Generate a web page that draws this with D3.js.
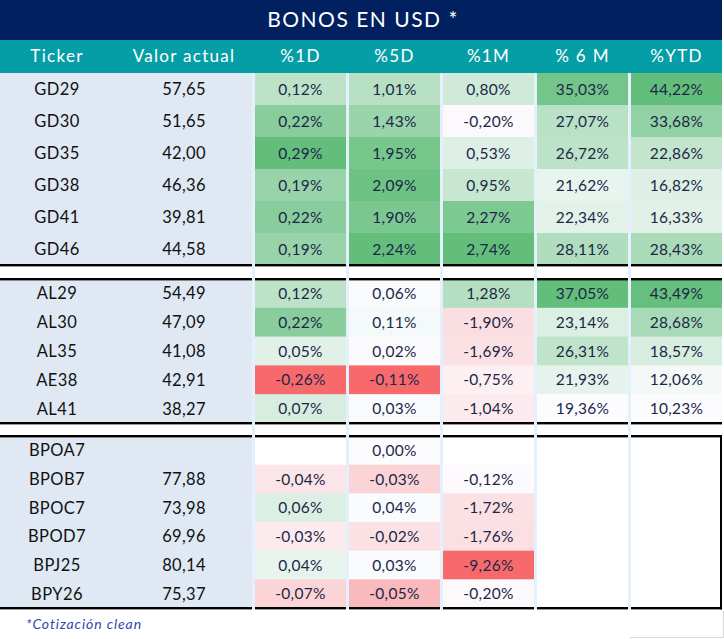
<!DOCTYPE html>
<html>
<head>
<meta charset="utf-8">
<script src="https://cdn.jsdelivr.net/npm/d3@7"></script>
<style>
  html, body { margin: 0; padding: 0; background: #ffffff; }
  svg { display: block; }
  text { font-family: "Lato", "DejaVu Sans", sans-serif; }
</style>
</head>
<body>
<svg id="chart" width="724" height="639"></svg>
<script>
// ---------------- DATA ----------------
const title = "BONOS EN USD *";
const footnote = "*Cotización clean";
const headers = ["Ticker", "Valor actual", "%1D", "%5D", "%1M", "% 6 M", "%YTD"];
const pctColumns = ["%1D", "%5D", "%1M", "% 6 M", "%YTD"];

const tickers = ["GD29","GD30","GD35","GD38","GD41","GD46",
                 "AL29","AL30","AL35","AE38","AL41",
                 "BPOA7","BPOB7","BPOC7","BPOD7","BPJ25","BPY26"];
const groupOf = [0,0,0,0,0,0, 1,1,1,1,1, 2,2,2,2,2,2];

const valorActual = [57.65,51.65,42.00,46.36,39.81,44.58,
                     54.49,47.09,41.08,42.91,38.27,
                     null,77.88,73.98,69.96,80.14,75.37];
const pct1D  = [0.12,0.22,0.29,0.19,0.22,0.19,
                0.12,0.22,0.05,-0.26,0.07,
                null,-0.04,0.06,-0.03,0.04,-0.07];
const pct5D  = [1.01,1.43,1.95,2.09,1.90,2.24,
                0.06,0.11,0.02,-0.11,0.03,
                0.00,-0.03,0.04,-0.02,0.03,-0.05];
const pct1M  = [0.80,-0.20,0.53,0.95,2.27,2.74,
                1.28,-1.90,-1.69,-0.75,-1.04,
                null,-0.12,-1.72,-1.76,-9.26,-0.20];
const pct6M  = [35.03,27.07,26.72,21.62,22.34,28.11,
                37.05,23.14,26.31,21.93,19.36,
                null,null,null,null,null,null];
const pctYTD = [44.22,33.68,22.86,16.82,16.33,28.43,
                43.49,28.68,18.57,12.06,10.23,
                null,null,null,null,null,null];

const pctSeries = [pct1D, pct5D, pct1M, pct6M, pctYTD];

// ---------------- STYLE / LAYOUT ----------------
const C = {
  navy: "#002060", teal: "#069ea6", tickerBg: "#dfe8f3", gap: "#e4f0fb",
  red: "#F8696B", white: "#FCFCFF", green: "#63BE7B",
  cellText: "#1c2748", tickerText: "#111111", line: "#000000",
  foot: "#3446b0"
};
const W = 722;
const titleH = 40, headerTop = 40, headerBottom = 73;
const groupExtents = [[73, 265], [279, 423], [436, 608]];
const tickerRight = 252;

const svg = d3.select("#chart");
const fmt = v => d3.format(".2f")(v).replace(".", ",").replace("\u2212", "-");

// scales
const xPct = d3.scaleBand().domain(pctColumns).range([255, W]).paddingInner(3 / 94).paddingOuter(0);
const xText = { "Ticker": 57, "Valor actual": 184 };
pctColumns.forEach(c => xText[c] = xPct(c) + xPct.bandwidth() / 2);

const yGroups = groupExtents.map((ext, g) => {
  const rows = tickers.filter((t, i) => groupOf[i] === g);
  return d3.scaleBand().domain(rows).range(ext);
});
const yRow = i => yGroups[groupOf[i]](tickers[i]);
const rowH = i => yGroups[groupOf[i]].bandwidth();

function colorScale(values) {
  const v = values.filter(d => d != null);
  const lo = d3.min(v), hi = d3.max(v);
  if (lo >= 0) return d3.scaleLinear().domain([lo, hi]).range([C.white, C.green]).interpolate(d3.interpolateRgb);
  if (hi <= 0) return d3.scaleLinear().domain([lo, hi]).range([C.red, C.white]).interpolate(d3.interpolateRgb);
  return d3.scaleLinear().domain([lo, 0, hi]).range([C.red, C.white, C.green]).interpolate(d3.interpolateRgb);
}
const colorScales = pctSeries.map(colorScale);

// ---------------- DRAW ----------------
// title
svg.append("rect").attr("x", 0).attr("y", 0).attr("width", W).attr("height", titleH).attr("fill", C.navy);
svg.append("text").attr("x", W / 2 + 2).attr("y", 27).attr("text-anchor", "middle")
  .attr("fill", "#ffffff").attr("font-size", 21).attr("letter-spacing", 1.5).text(title);

// header
svg.append("rect").attr("x", 0).attr("y", headerTop).attr("width", W).attr("height", headerBottom - headerTop).attr("fill", C.teal);
svg.selectAll("text.hdr").data(headers).join("text").attr("class", "hdr")
  .attr("x", d => xText[d]).attr("y", 62).attr("text-anchor", "middle")
  .attr("fill", "#ffffff").attr("font-size", 17).attr("letter-spacing", 1.3).text(d => d);

// gap background behind pct columns
svg.append("rect").attr("x", tickerRight).attr("y", headerBottom).attr("width", W - tickerRight)
  .attr("height", groupExtents[2][1] - headerBottom + 1).attr("fill", C.gap);
// white gap rows between groups
[[groupExtents[0][1], groupExtents[1][0]], [groupExtents[1][1], groupExtents[2][0]]].forEach(([a, b]) => {
  svg.append("rect").attr("x", 0).attr("y", a).attr("width", tickerRight).attr("height", b - a).attr("fill", "#ffffff");
  pctColumns.forEach(c => {
    svg.append("rect").attr("x", xPct(c)).attr("y", a).attr("width", xPct.bandwidth()).attr("height", b - a).attr("fill", "#ffffff");
  });
});

// ticker background per group
groupExtents.forEach(ext => {
  svg.append("rect").attr("x", 0).attr("y", ext[0]).attr("width", tickerRight).attr("height", ext[1] - ext[0]).attr("fill", C.tickerBg);
});

// cells
pctColumns.forEach((c, ci) => {
  const vals = pctSeries[ci];
  const cs = colorScales[ci];
  const g = svg.append("g");
  g.selectAll("rect").data(tickers).join("rect")
    .attr("x", xPct(c)).attr("y", (d, i) => yRow(i))
    .attr("width", xPct.bandwidth()).attr("height", (d, i) => rowH(i) + 0.5)
    .attr("fill", (d, i) => vals[i] == null ? "#ffffff" : cs(vals[i]));
  g.selectAll("text").data(tickers).join("text")
    .attr("x", xText[c]).attr("y", (d, i) => yRow(i) + rowH(i) / 2 + 5.5)
    .attr("text-anchor", "middle").attr("fill", C.cellText).attr("font-size", 15.5).attr("letter-spacing", 0.3)
    .text((d, i) => vals[i] == null ? "" : fmt(vals[i]) + "%");
});

// ticker + valor texts
svg.selectAll("text.tk").data(tickers).join("text").attr("class", "tk")
  .attr("x", xText["Ticker"]).attr("y", (d, i) => yRow(i) + rowH(i) / 2 + 6)
  .attr("text-anchor", "middle").attr("fill", C.tickerText).attr("font-size", 16.5).attr("letter-spacing", 0.4).text(d => d);
svg.selectAll("text.va").data(tickers).join("text").attr("class", "va")
  .attr("x", xText["Valor actual"]).attr("y", (d, i) => yRow(i) + rowH(i) / 2 + 6)
  .attr("text-anchor", "middle").attr("fill", C.tickerText).attr("font-size", 16.5).attr("letter-spacing", 0.3)
  .text((d, i) => valorActual[i] == null ? "" : fmt(valorActual[i]));

// thick separator lines, interrupted by column gaps
const lineYs = [groupExtents[0][1], groupExtents[1][0], groupExtents[1][1], groupExtents[2][0], groupExtents[2][1]];
const segs = [[0, tickerRight]].concat(pctColumns.map(c => [xPct(c), xPct(c) + xPct.bandwidth()]));
lineYs.forEach(y => {
  segs.forEach(([a, b]) => {
    svg.append("rect").attr("x", a).attr("y", y - 1).attr("width", b - a).attr("height", 2.4).attr("fill", C.line);
  });
});
// right border of last group
svg.append("rect").attr("x", W - 2).attr("y", groupExtents[2][0] - 1).attr("width", 2).attr("height", groupExtents[2][1] - groupExtents[2][0] + 2.4).attr("fill", C.line);

// faint outer frame at bottom right
svg.append("line").attr("x1", 630).attr("x2", 723).attr("y1", 637.5).attr("y2", 637.5).attr("stroke", "#d9d9d9");
svg.append("line").attr("x1", 723.5).attr("x2", 723.5).attr("y1", 611).attr("y2", 638).attr("stroke", "#d9d9d9");

// footnote
svg.append("text").attr("x", 26).attr("y", 629).attr("fill", C.foot).attr("font-size", 14)
  .attr("font-style", "italic").attr("letter-spacing", 0.9).text(footnote);
</script>
</body>
</html>
